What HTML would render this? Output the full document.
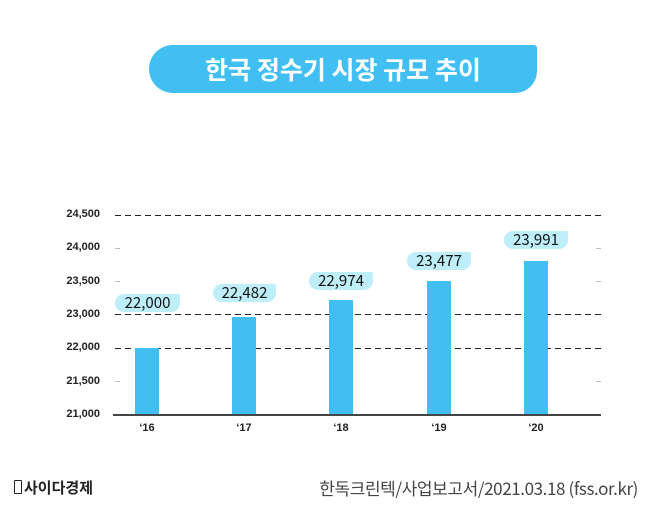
<!DOCTYPE html>
<html><head><meta charset="utf-8"><style>
body{margin:0;width:658px;height:507px;background:#fff;position:relative;overflow:hidden;font-family:"Liberation Sans","Noto Sans CJK KR",sans-serif}
.a{position:absolute}
.title{left:149px;top:45px;width:388px;height:48px;background:#41bff3;border-radius:24px 3px 22px 24px;color:#fff;font-size:25px;font-weight:bold;text-align:center;line-height:48px;font-family:"Noto Sans CJK KR",sans-serif}
.yl{left:50px;width:50px;text-align:right;font-size:11px;color:#222;font-weight:bold}
.tick{width:5px;height:1px;background:#bbb}
.bar{width:24px;background:#41bff3;bottom:92px}
.bub{height:18px;background:#bdeefa;border-radius:9px 2px 9px 9px;font-size:15px;color:#111;text-align:center;line-height:18px;font-family:"Noto Sans CJK KR",sans-serif}
.xl{font-size:11px;font-weight:bold;color:#222;width:40px;text-align:center;top:422px}
</style></head><body>
<div class="a title">한국 정수기 시장 규모 추이</div>
<div class="a yl" style="top:208px">24,500</div>
<div class="a yl" style="top:241px">24,000</div>
<div class="a yl" style="top:275px">23,500</div>
<div class="a yl" style="top:308px">23,000</div>
<div class="a yl" style="top:341px">22,000</div>
<div class="a yl" style="top:375px">21,500</div>
<div class="a yl" style="top:408px">21,000</div>
<svg class="a" style="left:0;top:0" width="658" height="507">
<g stroke="#222" stroke-width="1" stroke-dasharray="6,4">
<line x1="115" y1="215.5" x2="601" y2="215.5"/>
<line x1="115" y1="314.5" x2="601" y2="314.5"/>
<line x1="115" y1="348.5" x2="601" y2="348.5"/>
</g></svg>
<div class="a tick" style="left:115px;top:248px"></div><div class="a tick" style="left:596px;top:248px"></div>
<div class="a tick" style="left:115px;top:281px"></div><div class="a tick" style="left:596px;top:281px"></div>
<div class="a tick" style="left:115px;top:381px"></div><div class="a tick" style="left:596px;top:381px"></div>
<div class="a bar" style="left:135px;top:348px"></div>
<div class="a bar" style="left:232px;top:317px"></div>
<div class="a bar" style="left:329px;top:300px"></div>
<div class="a bar" style="left:427px;top:281px"></div>
<div class="a bar" style="left:524px;top:261px"></div>
<div class="a" style="left:113px;top:414px;width:488px;height:2px;background:#444"></div>
<div class="a bub" style="left:115px;top:294px;width:65px">22,000</div>
<div class="a bub" style="left:213px;top:284px;width:63px">22,482</div>
<div class="a bub" style="left:309px;top:272px;width:64px">22,974</div>
<div class="a bub" style="left:407px;top:252px;width:64px">23,477</div>
<div class="a bub" style="left:504px;top:231px;width:64px">23,991</div>
<div class="a xl" style="left:127px">‘16</div>
<div class="a xl" style="left:224px">‘17</div>
<div class="a xl" style="left:321px">‘18</div>
<div class="a xl" style="left:419px">‘19</div>
<div class="a xl" style="left:516px">‘20</div>
<div class="a" style="left:14px;top:477px;font-size:15px;font-weight:bold;color:#222;font-family:'Noto Sans CJK KR',sans-serif"><span style="display:inline-block;width:6px;height:12px;border:1.5px solid #222;border-radius:1px;margin-right:2px;vertical-align:-1px"></span>사이다경제</div>
<div class="a" style="right:20px;top:475px;font-size:17px;color:#444;font-family:'Noto Sans CJK KR',sans-serif;letter-spacing:-0.4px">한독크린텍/사업보고서/2021.03.18 (fss.or.kr)</div>
</body></html>
